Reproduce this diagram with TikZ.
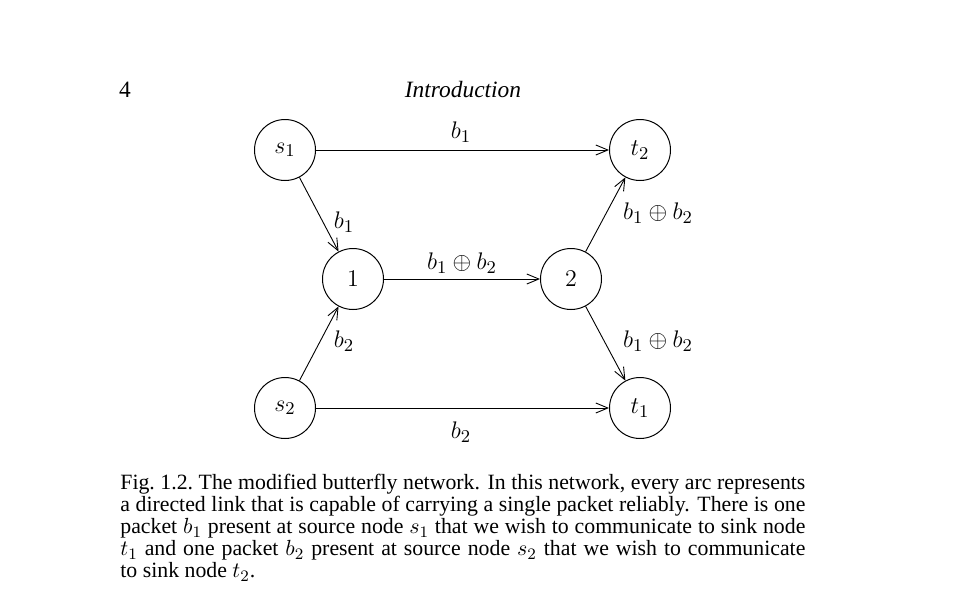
\documentclass[tikz,border=0pt]{standalone}
\usepackage{fontspec}
\setmainfont{Liberation Serif}
\usetikzlibrary{arrows.meta}
\tikzset{
  vert/.style={circle, draw, line width=0.5pt, minimum size=30.5pt, inner sep=0pt, font=\fontsize{13.2pt}{15pt}\selectfont},
  arc/.style={draw, line width=0.45pt, -{Straight Barb[length=6pt,width=5pt,line width=0.45pt]}},
  lab/.style={font=\fontsize{13.2pt}{15pt}\selectfont, inner sep=0pt}
}
\begin{document}
\begin{tikzpicture}[x=0.5pt,y=-0.5pt]
\useasboundingbox (0,0) rectangle (960,600);
\node[font=\fontsize{11.7pt}{13pt}\selectfont, inner sep=0pt] (pg) at (125,90) {4};
\node[font=\fontsize{11.7pt}{13pt}\selectfont\itshape, inner sep=0pt] (hd) at (463,90) {Introduction};
\node[vert] (s1) at (285,150) {$s_1$};
\node[vert] (t2) at (640,150) {$t_2$};
\node[vert] (n1) at (353,279) {$1$};
\node[vert] (n2) at (571,279) {$2$};
\node[vert] (s2) at (285,408) {$s_2$};
\node[vert] (t1) at (640,408) {$t_1$};
\draw[arc] (s1) -- (t2);
\draw[arc] (s1) -- (n1);
\draw[arc] (s2) -- (n1);
\draw[arc] (n1) -- (n2);
\draw[arc] (n2) -- (t2);
\draw[arc] (n2) -- (t1);
\draw[arc] (s2) -- (t1);
\node[lab] (l1) at (461,132) {$b_1$};
\node[lab] (l2) at (344,222) {$b_1$};
\node[lab] (l3) at (462,263) {$b_1\oplus b_2$};
\node[lab] (l4) at (658,213) {$b_1\oplus b_2$};
\node[lab] (l5) at (658,341) {$b_1\oplus b_2$};
\node[lab] (l6) at (344,341) {$b_2$};
\node[lab] (l7) at (461,432) {$b_2$};
\node[anchor=north west, inner sep=0pt, text width=342.5pt, align=justify, font=\fontsize{10.9pt}{11pt}\selectfont] (cap) at (120,474) {\hyphenpenalty=10000\tolerance=9999\hfuzz=20pt Fig.~1.2.\ The modified butterfly network. In this network, every arc represents\linebreak a directed link that is capable of carrying a single packet reliably. There is one\linebreak packet $b_1$ present at source node $s_1$ that we wish to communicate to sink node\linebreak $t_1$ and one packet $b_2$ present at source node $s_2$ that we wish to communicate\linebreak to sink node $t_2$.};
\end{tikzpicture}
\end{document}
